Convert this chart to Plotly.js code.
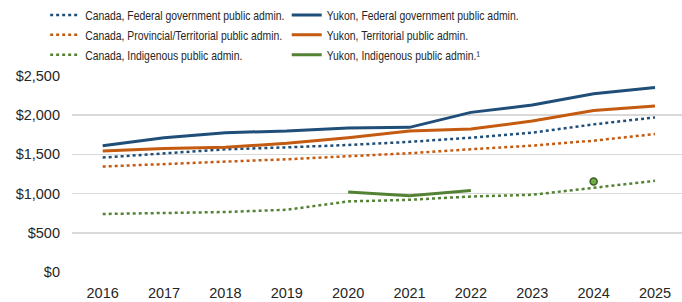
<!DOCTYPE html>
<html>
<head>
<meta charset="utf-8">
<script src="https://cdn.plot.ly/plotly-3.0.1.min.js"></script>
<style>
html,body{margin:0;padding:0;background:#fff;}
#chart{width:682px;height:302px;}
/* mimic the condensed typeface of the original legend */
#chart text.legendtext, #chart text.legend2text{transform-box:fill-box;transform-origin:0 50%;transform:scaleX(0.8);}
</style>
</head>
<body>
<div id="chart"></div>
<script>
const years = ['2016','2017','2018','2019','2020','2021','2022','2023','2024','2025'];

const canadaFederal    = [1460, 1515, 1565, 1590, 1620, 1660, 1713, 1777, 1883, 1972];
const canadaProvincial = [1345, 1380, 1408, 1438, 1472, 1515, 1566, 1612, 1675, 1760];
const canadaIndigenous = [740, 752, 765, 794, 900, 921, 963, 985, 1070, 1163];
const yukonFederal     = [1610, 1713, 1777, 1798, 1838, 1845, 2036, 2129, 2273, 2354];
const yukonTerritorial = [1544, 1574, 1591, 1642, 1712, 1798, 1824, 1926, 2061, 2116];
const yukonIndigenous  = [null, null, null, null, 1019, 972, 1040, null, 1154, null];

const yTickVals = [0, 500, 1000, 1500, 2000, 2500];
const yTickText = ['$0', '$500', '$1,000', '$1,500', '$2,000', '$2,500'];

const names = {
  cf: 'Canada, Federal government public admin.',
  cp: 'Canada, Provincial/Territorial public admin.',
  ci: 'Canada, Indigenous public admin.',
  yf: 'Yukon, Federal government public admin.',
  yt: 'Yukon, Territorial public admin.',
  yi: 'Yukon, Indigenous public admin.\u00B9'
};

const BLUE = '#1f4e79', ORANGE = '#c55a11', GREEN = '#548235';

function dotted(y, name, color) {
  return {x: years, y: y, name: name, type: 'scatter', mode: 'lines',
          line: {color: color, width: 2.5, dash: 'dot'}, legend: 'legend', hoverinfo: 'skip'};
}
function solid(y, name, color) {
  return {x: years, y: y, name: name, type: 'scatter', mode: 'lines', connectgaps: false,
          line: {color: color, width: 3}, legend: 'legend2', hoverinfo: 'skip'};
}

const isolated = yukonIndigenous.map((v, i) =>
  (v != null && yukonIndigenous[i - 1] == null && yukonIndigenous[i + 1] == null) ? v : null);

const data = [
  dotted(canadaFederal, names.cf, BLUE),
  dotted(canadaProvincial, names.cp, ORANGE),
  dotted(canadaIndigenous, names.ci, GREEN),
  solid(yukonFederal, names.yf, BLUE),
  solid(yukonTerritorial, names.yt, ORANGE),
  solid(yukonIndigenous, names.yi, GREEN),
  {x: years, y: isolated, type: 'scatter', mode: 'markers', showlegend: false, hoverinfo: 'skip',
   marker: {size: 7, color: '#70ad47', line: {color: '#3b5e24', width: 1.5}}}
];

const FONT = 'Liberation Sans, Arial, sans-serif';
const legendFont = {family: FONT, size: 13, color: '#262626'};

const layout = {
  width: 682, height: 302,
  margin: {l: 72, r: 0, t: 76, b: 30},
  paper_bgcolor: '#fff', plot_bgcolor: '#fff',
  font: {family: FONT, size: 14, color: '#262626'},
  showlegend: true,
  legend: {x: -0.044, xref: 'paper', y: 1, yref: 'container', yanchor: 'top', xanchor: 'left',
           orientation: 'v', font: legendFont,
           bgcolor: 'rgba(0,0,0,0)', tracegroupgap: 0, itemwidth: 30},
  legend2: {x: 0.352, xref: 'paper', y: 1, yref: 'container', yanchor: 'top', xanchor: 'left',
           orientation: 'v', font: legendFont,
           bgcolor: 'rgba(0,0,0,0)', tracegroupgap: 0, itemwidth: 30},
  xaxis: {type: 'category', range: [-0.5, 9.44], showgrid: false, zeroline: false,
          showline: false, ticks: '', tickfont: {size: 14.5}, ticklabelstandoff: 10, fixedrange: true},
  yaxis: {range: [0, 2500], tickmode: 'array', tickvals: yTickVals, ticktext: yTickText,
          showgrid: true, gridcolor: '#d9d9d9', gridwidth: 1.5,
          zeroline: false, showline: false, ticks: '', tickfont: {size: 14.5},
          ticklabelstandoff: 11, fixedrange: true}
};

Plotly.newPlot('chart', data, layout, {displayModeBar: false, staticPlot: true});
</script>
</body>
</html>
